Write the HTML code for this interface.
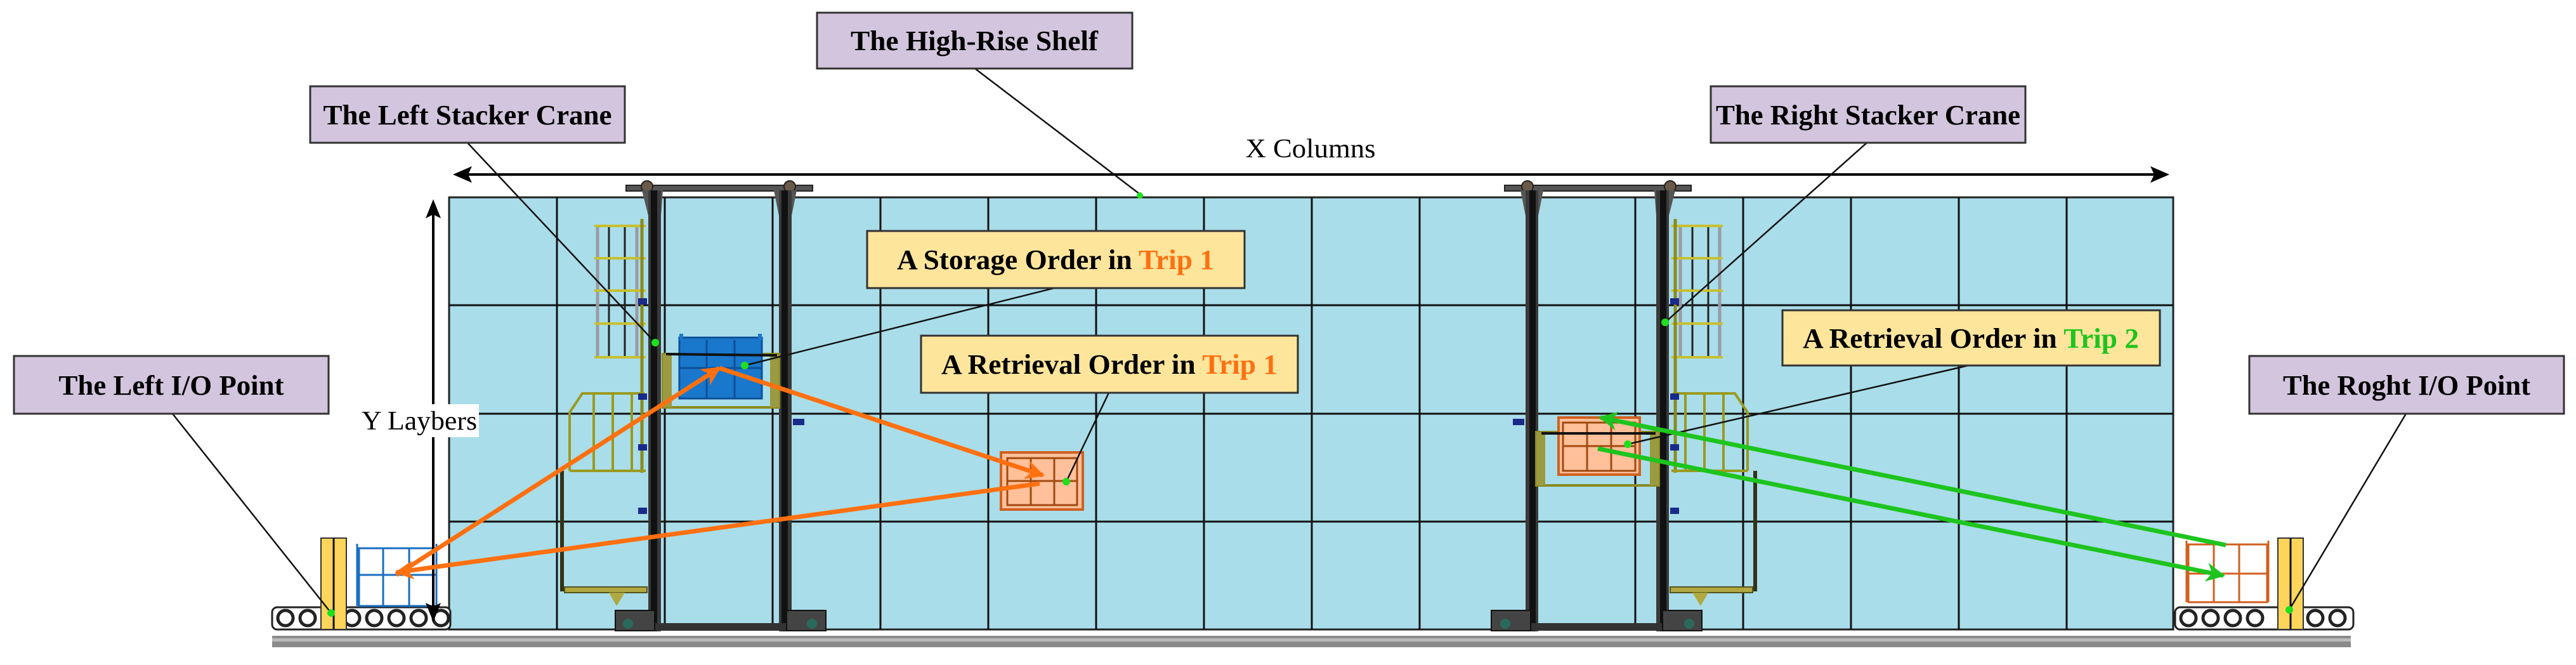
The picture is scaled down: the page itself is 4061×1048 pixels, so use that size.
<!DOCTYPE html>
<html><head><meta charset="utf-8"><style>
html,body{margin:0;padding:0;background:#fff;}
svg{display:block;}
.lb{font-family:"Liberation Serif",serif;font-weight:bold;font-size:44px;}
</style></head><body>
<svg width="4061" height="1048" viewBox="0 0 4061 1048" xmlns="http://www.w3.org/2000/svg">
<defs>
<marker id="ao" viewBox="0 0 10 10" refX="9" refY="5" markerWidth="36" markerHeight="30" orient="auto" markerUnits="userSpaceOnUse"><path d="M0,0 L10,5 L0,10 L3,5 z" fill="#ff7010"/></marker>
<marker id="ag" viewBox="0 0 10 10" refX="9" refY="5" markerWidth="36" markerHeight="30" orient="auto" markerUnits="userSpaceOnUse"><path d="M0,0 L10,5 L0,10 L3,5 z" fill="#1ec41e"/></marker>
<g id="cage">
  <g stroke="#9a9aa4" stroke-width="5" fill="none">
    <line x1="942" y1="354" x2="942" y2="565"/><line x1="1004" y1="354" x2="1004" y2="565"/>
  </g>
  <g stroke="#222" stroke-width="3"><line x1="960" y1="358" x2="960" y2="562"/><line x1="985" y1="358" x2="985" y2="562"/></g>
  <g stroke="#c8c030" stroke-width="4">
    <line x1="937" y1="356" x2="1018" y2="356"/><line x1="937" y1="407" x2="1018" y2="407"/><line x1="937" y1="458" x2="1018" y2="458"/><line x1="937" y1="510" x2="1018" y2="510"/><line x1="937" y1="563" x2="1018" y2="563"/>
  </g>
  <line x1="1012" y1="345" x2="1012" y2="745" stroke="#8a8a20" stroke-width="5"/>
  <g stroke="#9a9a20" stroke-width="4" fill="none">
    <path d="M898,742 L898,650 L918,620 L1016,620"/>
    <line x1="898" y1="742" x2="1018" y2="742"/>
    <line x1="936" y1="622" x2="936" y2="742"/><line x1="966" y1="622" x2="966" y2="742"/><line x1="996" y1="622" x2="996" y2="742"/>
  </g>
  <line x1="886" y1="742" x2="886" y2="932" stroke="#333318" stroke-width="6"/>
  <path d="M890,925 L1020,925 L1020,934 L890,934 z" fill="#b0a840" stroke="#555520" stroke-width="2"/>
  <path d="M960,934 L985,934 L972,955 z" fill="#b0a840"/>
  <path d="M987,292 L1281,292 L1281,301 L987,301 z" fill="#555" stroke="#222" stroke-width="2"/>
  <circle cx="1020" cy="294" r="9" fill="#6a5a4a" stroke="#222" stroke-width="2"/>
  <circle cx="1245" cy="294" r="9" fill="#6a5a4a" stroke="#222" stroke-width="2"/>
  <path d="M1012,300 L1045,300 L1042,340 L1022,340 z" fill="#555"/>
  <path d="M1220,300 L1256,300 L1248,340 L1228,340 z" fill="#555"/>
  <rect x="1022" y="300" width="20" height="695" fill="#3a3a3a"/>
  <rect x="1026" y="300" width="10" height="695" fill="#111"/>
  <rect x="1228" y="300" width="20" height="695" fill="#3a3a3a"/>
  <rect x="1232" y="300" width="10" height="695" fill="#111"/>
  <rect x="1022" y="982" width="226" height="12" fill="#333"/>
  <rect x="970" y="962" width="62" height="32" fill="#444" stroke="#111" stroke-width="2"/>
  <rect x="1240" y="962" width="62" height="32" fill="#444" stroke="#111" stroke-width="2"/>
  <circle cx="990" cy="983" r="8" fill="#2a6a5a"/><circle cx="1280" cy="983" r="8" fill="#2a6a5a"/>
  <rect x="1006" y="470" width="14" height="10" fill="#1a2a8a"/><rect x="1006" y="620" width="14" height="10" fill="#1a2a8a"/><rect x="1250" y="660" width="18" height="10" fill="#1a2a8a"/>
  <rect x="1006" y="700" width="14" height="10" fill="#1a2a8a"/><rect x="1006" y="800" width="14" height="10" fill="#1a2a8a"/>
</g>
</defs>

<rect x="429" y="1002" width="3277" height="18" fill="#8a8a8a"/>
<rect x="429" y="1006" width="3277" height="5" fill="#bbb"/>

<rect x="708" y="311" width="2718" height="681" fill="#a9dde9" stroke="#222" stroke-width="3"/>
<g stroke="#111" stroke-width="3">
<line x1="708" y1="481" x2="3426" y2="481"/><line x1="708" y1="652" x2="3426" y2="652"/><line x1="708" y1="822" x2="3426" y2="822"/>
<line x1="878" y1="311" x2="878" y2="992"/><line x1="1048" y1="311" x2="1048" y2="992"/><line x1="1218" y1="311" x2="1218" y2="992"/><line x1="1388" y1="311" x2="1388" y2="992"/>
<line x1="1558" y1="311" x2="1558" y2="992"/><line x1="1728" y1="311" x2="1728" y2="992"/><line x1="1898" y1="311" x2="1898" y2="992"/><line x1="2068" y1="311" x2="2068" y2="992"/>
<line x1="2238" y1="311" x2="2238" y2="992"/><line x1="2408" y1="311" x2="2408" y2="992"/><line x1="2578" y1="311" x2="2578" y2="992"/><line x1="2748" y1="311" x2="2748" y2="992"/>
<line x1="2918" y1="311" x2="2918" y2="992"/><line x1="3088" y1="311" x2="3088" y2="992"/><line x1="3258" y1="311" x2="3258" y2="992"/>
</g>

<use href="#cage"/>
<use href="#cage" transform="translate(3653,0) scale(-1,1)"/>

<rect x="1045" y="558" width="183" height="84" fill="none" stroke="#8a8a20" stroke-width="4"/>
<rect x="1045" y="558" width="14" height="84" fill="#9a9a40"/><rect x="1214" y="558" width="14" height="84" fill="#9a9a40"/>
<rect x="1071" y="532" width="130" height="96" fill="#1a78cc" stroke="#0d4f99" stroke-width="3"/>
<rect x="1071" y="526" width="6" height="10" fill="#1a78cc"/><rect x="1195" y="526" width="6" height="10" fill="#1a78cc"/>
<g stroke="#0d4f99" stroke-width="3"><line x1="1071" y1="580" x2="1201" y2="580"/><line x1="1114" y1="536" x2="1114" y2="628"/><line x1="1158" y1="536" x2="1158" y2="628"/></g>
<line x1="1050" y1="558" x2="1225" y2="560" stroke="#111" stroke-width="4"/>

<rect x="2422" y="681" width="193" height="84" fill="none" stroke="#8a8a20" stroke-width="4"/>
<rect x="2422" y="681" width="14" height="84" fill="#9a9a40"/><rect x="2601" y="681" width="14" height="84" fill="#9a9a40"/>
<rect x="2457" y="658" width="128" height="90" fill="#ffc09a" stroke="#d06020" stroke-width="4"/>
<g stroke="#a04a10" stroke-width="3" fill="none"><rect x="2464" y="666" width="114" height="76"/><line x1="2464" y1="703" x2="2578" y2="703"/><line x1="2502" y1="666" x2="2502" y2="742"/><line x1="2540" y1="666" x2="2540" y2="742"/></g>
<line x1="2430" y1="683" x2="2610" y2="683" stroke="#111" stroke-width="4"/>

<rect x="1578" y="713" width="129" height="90" fill="#ffc09a" stroke="#d06020" stroke-width="4"/>
<g stroke="#a04a10" stroke-width="3" fill="none"><rect x="1588" y="722" width="110" height="74"/><line x1="1588" y1="758" x2="1698" y2="758"/><line x1="1625" y1="722" x2="1625" y2="796"/><line x1="1662" y1="722" x2="1662" y2="796"/></g>

<rect x="429" y="957" width="281" height="35" rx="8" fill="#fff" stroke="#222" stroke-width="3"/>
<g fill="#fff" stroke="#222" stroke-width="5">
<circle cx="450" cy="974" r="12"/><circle cx="485" cy="974" r="12"/><circle cx="555" cy="974" r="12"/><circle cx="590" cy="974" r="12"/><circle cx="625" cy="974" r="12"/><circle cx="660" cy="974" r="12"/><circle cx="695" cy="974" r="12"/>
</g>
<rect x="3429" y="957" width="281" height="35" rx="8" fill="#fff" stroke="#222" stroke-width="3"/>
<g fill="#fff" stroke="#222" stroke-width="5">
<circle cx="3450" cy="974" r="12"/><circle cx="3485" cy="974" r="12"/><circle cx="3520" cy="974" r="12"/><circle cx="3555" cy="974" r="12"/><circle cx="3650" cy="974" r="12"/><circle cx="3685" cy="974" r="12"/>
</g>
<rect x="506" y="848" width="40" height="144" fill="#fcd55a" stroke="#333" stroke-width="2"/><line x1="526" y1="848" x2="526" y2="992" stroke="#111" stroke-width="3"/>
<rect x="3591" y="848" width="40" height="144" fill="#fcd55a" stroke="#333" stroke-width="2"/><line x1="3611" y1="848" x2="3611" y2="992" stroke="#111" stroke-width="3"/>
<g stroke="#1a6ec0" stroke-width="3" fill="none">
<rect x="566" y="864" width="122" height="91"/><line x1="563" y1="857" x2="563" y2="955"/><line x1="688" y1="857" x2="688" y2="955"/>
<line x1="566" y1="906" x2="688" y2="906"/><line x1="604" y1="864" x2="604" y2="955"/><line x1="645" y1="864" x2="645" y2="955"/>
</g>
<g stroke="#d06020" stroke-width="3" fill="none">
<rect x="3450" y="858" width="124" height="91"/><line x1="3447" y1="852" x2="3447" y2="949"/><line x1="3576" y1="852" x2="3576" y2="949"/>
<line x1="3450" y1="904" x2="3574" y2="904"/><line x1="3490" y1="858" x2="3490" y2="949"/><line x1="3530" y1="858" x2="3530" y2="949"/>
</g>

<line x1="3410" y1="275" x2="724" y2="275" stroke="#000" stroke-width="4"/>
<path d="M714,275 L744,262 L738,275 L744,288 z" fill="#000"/>
<path d="M3420,275 L3390,262 L3396,275 L3390,288 z" fill="#000"/>
<line x1="683" y1="326" x2="683" y2="968" stroke="#000" stroke-width="4"/>
<path d="M683,314 L671,344 L683,338 L695,344 z" fill="#000"/>
<path d="M683,980 L671,950 L683,956 L695,950 z" fill="#000"/>
<text x="2066" y="248" text-anchor="middle" font-family="Liberation Serif,serif" font-size="42" textLength="205" lengthAdjust="spacingAndGlyphs">X Columns</text>
<rect x="567" y="637" width="188" height="52" fill="#fff"/>
<text x="661" y="677" text-anchor="middle" font-family="Liberation Serif,serif" font-size="42" textLength="182" lengthAdjust="spacingAndGlyphs">Y Laybers</text>

<g stroke="#111" stroke-width="2.5">
<line x1="737" y1="225" x2="1033" y2="540"/>
<line x1="272" y1="652" x2="522" y2="966"/>
<line x1="1537" y1="108" x2="1797" y2="306"/>
<line x1="1662" y1="454" x2="1174" y2="576"/>
<line x1="1748" y1="619" x2="1681" y2="759"/>
<line x1="2943" y1="225" x2="2625" y2="508"/>
<line x1="3103" y1="576" x2="2566" y2="700"/>
<line x1="3793" y1="652" x2="3609" y2="961"/>
</g>

<g stroke="#ff7010" stroke-width="7" fill="none">
<line x1="625" y1="906" x2="1134" y2="580" marker-end="url(#ao)"/>
<line x1="1134" y1="580" x2="1644" y2="749" marker-end="url(#ao)"/>
<line x1="1639" y1="762" x2="625" y2="902" marker-end="url(#ao)"/>
</g>
<g stroke="#1ec41e" stroke-width="7" fill="none">
<line x1="3509" y1="859" x2="2523" y2="658" marker-end="url(#ag)"/>
<line x1="2519" y1="707" x2="3505" y2="907" marker-end="url(#ag)"/>
</g>

<g fill="#1ee01e">
<circle cx="1033" cy="540" r="6"/><circle cx="522" cy="966" r="6"/><circle cx="1797" cy="308" r="5"/><circle cx="1174" cy="576" r="6"/>
<circle cx="1681" cy="759" r="6"/><circle cx="2625" cy="508" r="6"/><circle cx="2566" cy="700" r="6"/><circle cx="3609" cy="961" r="6"/>
</g>

<g stroke="#333" stroke-width="3">
<rect x="489" y="136" width="496" height="89" fill="#d3c5de"/>
<rect x="22" y="561" width="496" height="91" fill="#d3c5de"/>
<rect x="1288" y="20" width="497" height="88" fill="#d3c5de"/>
<rect x="2697" y="136" width="496" height="89" fill="#d3c5de"/>
<rect x="3546" y="561" width="496" height="91" fill="#d3c5de"/>
<rect x="1367" y="364" width="595" height="90" fill="#fde59c"/>
<rect x="1452" y="529" width="594" height="90" fill="#fde59c"/>
<rect x="2810" y="489" width="595" height="87" fill="#fde59c"/>
</g>
<g class="lb">
<text x="737" y="196" text-anchor="middle" textLength="455" lengthAdjust="spacingAndGlyphs">The Left Stacker Crane</text>
<text x="270" y="622" text-anchor="middle" textLength="355" lengthAdjust="spacingAndGlyphs">The Left I/O Point</text>
<text x="1536" y="79" text-anchor="middle" textLength="390" lengthAdjust="spacingAndGlyphs">The High-Rise Shelf</text>
<text x="2945" y="196" text-anchor="middle" textLength="480" lengthAdjust="spacingAndGlyphs">The Right Stacker Crane</text>
<text x="3794" y="622" text-anchor="middle" textLength="390" lengthAdjust="spacingAndGlyphs">The Roght I/O Point</text>
<text x="1664" y="424" text-anchor="middle" textLength="500" lengthAdjust="spacingAndGlyphs">A Storage Order in <tspan fill="#ff7010">Trip 1</tspan></text>
<text x="1749" y="589" text-anchor="middle" textLength="530" lengthAdjust="spacingAndGlyphs">A Retrieval Order in <tspan fill="#ff7010">Trip 1</tspan></text>
<text x="3107" y="548" text-anchor="middle" textLength="530" lengthAdjust="spacingAndGlyphs">A Retrieval Order in <tspan fill="#1ec41e">Trip 2</tspan></text>
</g>
</svg>
</body></html>
